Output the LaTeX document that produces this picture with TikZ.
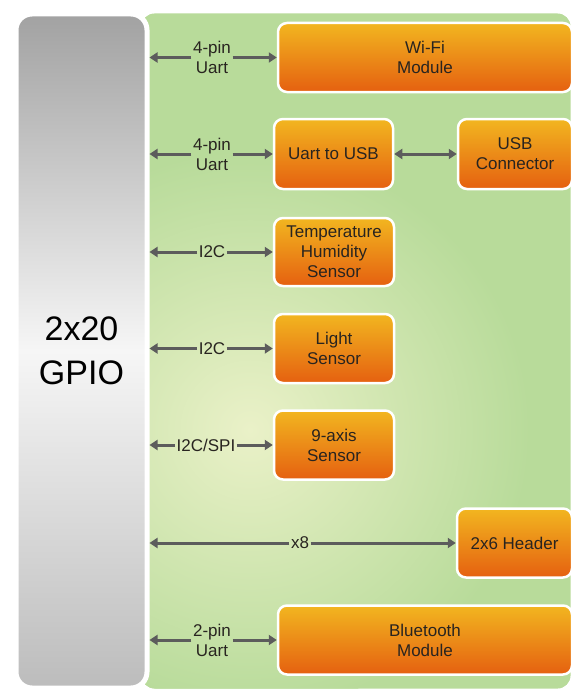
\documentclass[tikz,border=0pt]{standalone}
\usepackage{fontspec}
\setmainfont{Liberation Sans}
\usetikzlibrary{arrows.meta}

\definecolor{gpiotop}{RGB}{162,162,162}
\definecolor{gpiomid}{RGB}{246,246,246}
\definecolor{gpiobot}{RGB}{188,188,188}
\definecolor{bgbase}{RGB}{184,219,154}
\definecolor{bglight}{RGB}{234,241,200}
\definecolor{modtop}{RGB}{242,182,32}
\definecolor{modbot}{RGB}{229,96,16}
\definecolor{linkgray}{RGB}{92,92,92}
\definecolor{txt}{RGB}{40,36,32}

\begin{document}
\begin{tikzpicture}[x=1pt, y=-1pt,
	gpiobox/.style={draw=white, line width=5pt, rounded corners=16pt,
		top color=gpiotop, bottom color=gpiobot, middle color=gpiomid,
		text=black, font=\fontsize{34}{44}\selectfont, align=center},
	modbox/.style={draw=white, line width=2.5pt, rounded corners=9pt,
		top color=modtop, bottom color=modbot, text=txt, align=center,
		inner sep=0pt, font=\fontsize{17}{20}\selectfont},
	lbl/.style={text=txt, align=center, inner sep=1.5pt,
		font=\fontsize{17}{20}\selectfont},
	link/.style={draw=linkgray, line width=3pt,
		-{Triangle[length=8pt, width=10pt]}}]

	% рамка картинки
	\useasboundingbox (0,0) rectangle (574,693);

	% зелёный фон
	\draw[fill=bgbase, draw=white, line width=3pt, rounded corners=14pt]
		(140,12) rectangle (572,690);
	\begin{scope}
		\clip[rounded corners=14pt] (141.5,13.5) rectangle (570.5,688.5);
		\shade[inner color=bglight, outer color=bgbase] (250,430) circle (280);
	\end{scope}

	% разъём GPIO
	\node[gpiobox, minimum width=131pt, minimum height=674pt] (gpio)
		at (81.5,351) {2x20\\GPIO};

	% модули
	\node[modbox, minimum width=294pt, minimum height=69pt] (wifi)   at (425,57.5)  {Wi-Fi\\Module};
	\node[modbox, minimum width=119pt, minimum height=70pt] (u2usb)  at (333.5,154) {Uart to USB};
	\node[modbox, minimum width=114pt, minimum height=70pt] (usbcon) at (515,154)   {USB\\Connector};
	\node[modbox, minimum width=120pt, minimum height=68pt] (temp)   at (334,252)   {Temperature\\Humidity\\Sensor};
	\node[modbox, minimum width=120pt, minimum height=69pt] (light)  at (334,348.5) {Light\\Sensor};
	\node[modbox, minimum width=120pt, minimum height=69pt] (axis)   at (334,445)   {9-axis\\Sensor};
	\node[modbox, minimum width=115pt, minimum height=69pt] (header) at (514.5,543) {2x6 Header};
	\node[modbox, minimum width=294pt, minimum height=69pt] (bt)     at (425,640)   {Bluetooth\\Module};

	% подписи шин
	\node[lbl] (lwifi)  at (212,57.5)  {4-pin\\Uart};
	\node[lbl] (lu2usb) at (212,154)   {4-pin\\Uart};
	\node[lbl] (ltemp)  at (212,252)   {I2C};
	\node[lbl] (llight) at (212,348.5) {I2C};
	\node[lbl] (laxis)  at (206,445)   {I2C/SPI};
	\node[lbl] (lhead)  at (300,543)   {x8};
	\node[lbl] (lbt)    at (212,640)   {2-pin\\Uart};

	% стрелки
	\foreach \l/\m in {lwifi/wifi, lu2usb/u2usb, ltemp/temp, llight/light,
			laxis/axis, lhead/header, lbt/bt} {
		\draw[link] (\l.west) -- (gpio.east |- \l);
		\draw[link] (\l.east) -- (\m.west);
	}
	\draw[link, {Triangle[length=8pt, width=10pt]}-{Triangle[length=8pt, width=10pt]}]
		(u2usb.east) -- (usbcon.west);
\end{tikzpicture}
\end{document}
